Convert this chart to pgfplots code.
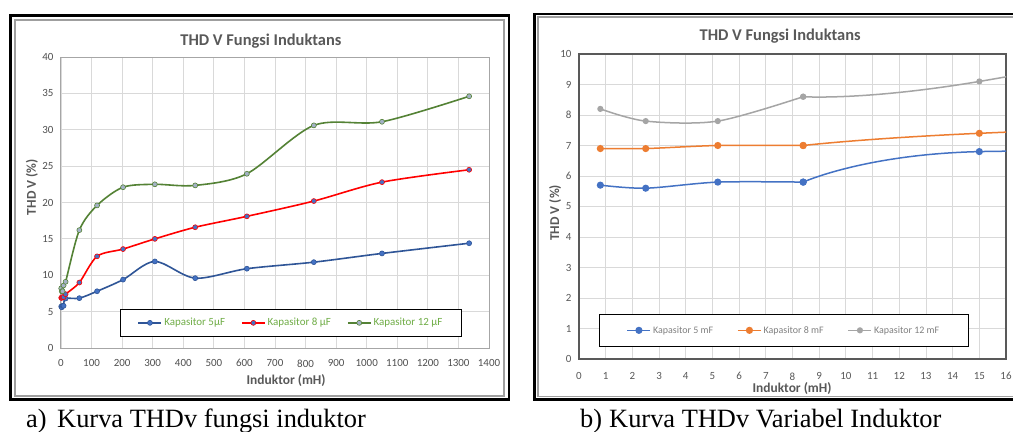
\documentclass[border=0pt]{standalone}
\usepackage{fontspec}
\setmainfont{Carlito}
\newfontfamily\capfont{Liberation Serif}
\usepackage{pgfplots}
\pgfplotsset{compat=1.18}
\usepackage{pgfplotstable}

\definecolor{bl}{HTML}{2F5597}
\definecolor{blf}{HTML}{4472C4}
\definecolor{rd}{HTML}{FF0000}
\definecolor{gr}{HTML}{548235}
\definecolor{grf}{HTML}{A3B1C6}
\definecolor{lg}{HTML}{70AD47}
\definecolor{txt}{HTML}{595959}
\definecolor{tick}{HTML}{505050}
\definecolor{gridc}{HTML}{D9D9D9}
\definecolor{orc}{HTML}{ED7D31}
\definecolor{gy}{HTML}{A5A5A5}
\definecolor{lgtxt}{HTML}{808080}

\pgfplotstableread{
x     blue  red   green
0.8   5.7   6.9   8.2
2.5   5.6   6.9   7.8
5.2   5.8   7.0   7.8
8.4   5.8   7.0   8.6
15    6.8   7.4   9.1
60    6.85  9.0   16.2
118   7.8   12.6  19.6
203   9.4   13.6  22.1
307   11.9  15.0  22.5
439   9.6   16.6  22.35
608   10.9  18.1  23.95
827   11.8  20.2  30.6
1050  13.0  22.8  31.1
1335  14.4  24.5  34.6
}\data

\pgfplotsset{
  excel/.style={
    scale only axis, anchor=south west,
    grid=major, major grid style={gridc, line width=0.8bp},
    tick style={draw=none},
    /pgf/number format/assume math mode=true,
    /pgf/number format/1000 sep={},
    ticklabel style={font=\fontsize{11}{13}\selectfont, text=tick},
    title style={font=\bfseries\fontsize{16.5}{18}\selectfont, text=txt, anchor=center, yshift=0pt},
    label style={font=\bfseries\fontsize{13.5}{15}\selectfont, text=txt},
    legend cell align=left,
  },
  legimg/.style={legend image code/.code={
      \draw[##1] (0bp,0bp) -- (23bp,0bp);
      \draw[##1, mark repeat=1] plot coordinates {(11.5bp,0bp)};}},
}

\begin{document}
\begin{tikzpicture}
\path[use as bounding box] (0,0) rectangle (1013bp,-432bp);
\fill[white] (0,0) rectangle (1013bp,-432bp);
% frames
\draw[black, line width=2.6bp] (10.3bp,-15.3bp) rectangle (509bp,-399.5bp);
\draw[gray!75, line width=1.4bp] (15bp,-20bp) rectangle (504bp,-396bp);
\draw[black, line width=2.6bp] (534.7bp,-14bp) rectangle (1030bp,-399.5bp);
\draw[gray!75, line width=1.4bp] (538bp,-17bp) rectangle (1025bp,-396.5bp);

% left chart
\begin{axis}[excel,
  at={(61bp,-348bp)}, width=428bp, height=291bp,
  xmin=0, xmax=1400, ymin=0, ymax=40,
  xtick={0,100,...,1400}, ytick={0,5,...,40},
  axis line style={color=gray!70, line width=1bp},
  xticklabel style={yshift=-8bp},
  yticklabel style={xshift=-4bp},
  title={THD V Fungsi Induktans},
  title style={at={(axis description cs:0.467,1.034)}},
  xlabel={Induktor (mH)},
  xlabel style={at={(axis description cs:0.526,-0.113)}, anchor=center},
  ylabel={THD V (\%)},
  ylabel style={at={(axis description cs:-0.068,0.553)}, anchor=center},
  legimg,
  legend columns=3,
  legend style={at={(0.138,0.038)}, anchor=south west, draw=black, line width=1.2bp,
    fill=white, font=\fontsize{11}{13}\selectfont, text=lg,
    inner xsep=17bp, inner ysep=7bp,
    /tikz/every even column/.append style={column sep=14bp}},
]
\addplot[bl, line width=1.6bp, smooth, mark=*, mark size=2.5bp,
  mark options={fill=blf, draw=bl, line width=0.6bp}] table[x=x, y=blue] {\data};
\addlegendentry{Kapasitor 5µF}
\addplot[rd, line width=1.6bp, smooth, mark=*, mark size=2.5bp,
  mark options={fill=blf, draw=rd, line width=0.6bp}] table[x=x, y=red] {\data};
\addlegendentry{Kapasitor 8 µF}
\addplot[gr, line width=1.6bp, smooth, mark=*, mark size=2.5bp,
  mark options={fill=grf, draw=gr, line width=0.6bp}] table[x=x, y=green] {\data};
\addlegendentry{Kapasitor 12 µF}
\end{axis}

% right chart
\begin{axis}[excel,
  at={(579bp,-359bp)}, width=427bp, height=305bp,
  xmin=0, xmax=16, ymin=0, ymax=10,
  xtick={0,1,...,16}, ytick={0,1,...,10},
  axis line style={color=txt, line width=1.4bp},
  ticklabel style={text=txt},
  xticklabel style={yshift=-10bp},
  yticklabel style={xshift=-4bp},
  title={THD V Fungsi Induktans},
  title style={at={(axis description cs:0.471,1.039)}},
  xlabel={Induktor (mH)},
  xlabel style={at={(axis description cs:0.499,-0.098)}, anchor=center},
  ylabel={THD V (\%)},
  ylabel style={at={(axis description cs:-0.056,0.479)}, anchor=center},
  legimg,
  legend columns=3,
  legend style={at={(0.047,0.039)}, anchor=south west, draw=black, line width=1.2bp,
    fill=white, font=\fontsize{10}{12}\selectfont, text=lgtxt,
    inner xsep=27bp, inner ysep=10bp,
    /tikz/every even column/.append style={column sep=22bp}},
]
\addplot[blf, line width=1.5bp, smooth, mark=*, mark size=2.8bp,
  mark options={fill=blf, draw=blf}, restrict x to domain=0:9] table[x=x, y=blue] {\data};
\addlegendentry{Kapasitor 5 mF}
\addplot[orc, line width=1.5bp, smooth, mark=*, mark size=2.8bp,
  mark options={fill=orc, draw=orc}, restrict x to domain=0:9] table[x=x, y=red] {\data};
\addlegendentry{Kapasitor 8 mF}
\addplot[gy, line width=1.5bp, smooth, mark=*, mark size=2.3bp,
  mark options={fill=gy, draw=gy}, restrict x to domain=0:9] table[x=x, y=green] {\data};
\addlegendentry{Kapasitor 12 mF}
\addplot[blf, line width=1.5bp, smooth, tension=0.3, mark=*, mark size=2.8bp,
  mark options={fill=blf, draw=blf}, forget plot, restrict x to domain=8:61] table[x=x, y=blue] {\data};
\addplot[orc, line width=1.5bp, smooth, tension=0.3, mark=*, mark size=2.8bp,
  mark options={fill=orc, draw=orc}, forget plot, restrict x to domain=8:61] table[x=x, y=red] {\data};
\addplot[gy, line width=1.5bp, smooth, tension=0.3, mark=*, mark size=2.3bp,
  mark options={fill=gy, draw=gy}, forget plot, restrict x to domain=8:61] table[x=x, y=green] {\data};
\end{axis}

% captions
\node[anchor=base west, inner sep=0, font=\capfont\fontsize{26.5}{30}\selectfont] at (26bp,-427bp) {a)};
\node[anchor=base west, inner sep=0, font=\capfont\fontsize{26.5}{30}\selectfont] at (57bp,-427bp) {Kurva THDv fungsi induktor};
\node[anchor=base west, inner sep=0, font=\capfont\fontsize{26.5}{30}\selectfont] at (580bp,-427bp) {b)};
\node[anchor=base west, inner sep=0, font=\capfont\fontsize{26.5}{30}\selectfont] at (609bp,-427bp) {Kurva THDv Variabel Induktor};
\end{tikzpicture}
\end{document}
